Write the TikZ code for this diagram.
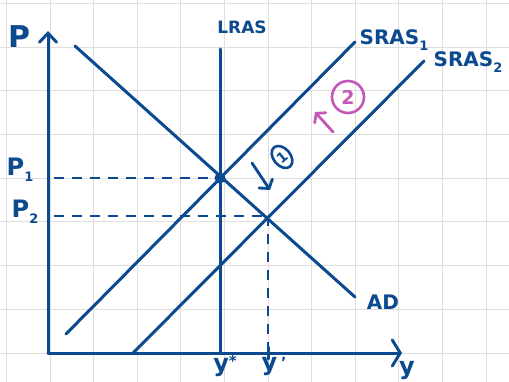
\documentclass[tikz,border=0pt]{standalone}
\usepackage{fontspec}
\setmainfont{DejaVu Sans}
\usetikzlibrary{arrows.meta,shapes.geometric}
\definecolor{ink}{HTML}{0B4A8F}
\definecolor{pinkink}{HTML}{C457B8}
\definecolor{gridc}{HTML}{DEDEDE}
\newcommand{\lowidx}[1]{\raisebox{-6pt}{\fontsize{13}{13}\selectfont\bfseries #1}}
\begin{document}
\begin{tikzpicture}[x=1pt,y=-1pt,
  gridline/.style={gridc, line width=1pt},
  curve/.style={ink, line width=3pt, line cap=round},
  dashline/.style={ink, line width=2.8pt, dash pattern=on 10pt off 8pt},
  lab/.style={ink, inner sep=0pt, font=\fontsize{20}{20}\selectfont\bfseries},
  axistip/.style={-{Straight Barb[length=9pt,width=17pt,line cap=round]}},
  xaxistip/.style={-{Straight Barb[length=8pt,width=26pt,line cap=round]}}]
\useasboundingbox[fill=white] (0,0) rectangle (509,382);
\foreach \i in {0,...,11} \draw[gridline] (6.4+43.6*\i,0) -- (6.4+43.6*\i,382);
\foreach \j in {0,...,8} \draw[gridline] (0,3.4+43.7*\j) -- (509,3.4+43.7*\j);

% key points
\coordinate (O) at (48,353);
\coordinate (ytop) at (48,31);
\coordinate (xend) at (402,353);
\coordinate (ADa) at (75,46);
\coordinate (ADb) at (355,297);
\coordinate (LRa) at (220,49);
\coordinate (LRb) at (220,353);
\coordinate (S1a) at (66,334);
\coordinate (S1b) at (355,42);
\coordinate (S2a) at (133,353);
\coordinate (S2b) at (424,61);
\coordinate (E1) at (220,178);
\coordinate (E2) at (268,216);
\coordinate (P1e) at (54,178);
\coordinate (P2e) at (54,216);
\coordinate (Y1e) at (268,353);

% dashed guides
\draw[dashline] (P1e) -- (E1);
\draw[dashline] (P2e) -- (E2);
\draw[dashline] (E2) -- (Y1e);

% axes
\draw[curve, axistip] (O) -- (ytop);
\draw[curve, xaxistip] (O) -- (xend);

% curves
\draw[curve] (ADa) -- (ADb);
\draw[curve] (LRa) -- (LRb);
\draw[curve] (S1a) -- (S1b);
\draw[curve] (S2a) -- (S2b);
\fill[ink] (E1) circle (5.5pt);
\draw[curve] (268,347) -- (268,359);

% labels
\node[lab, font=\fontsize{30}{30}\selectfont\bfseries] (Plab) at (19,37) {P};
\node[lab, font=\fontsize{24}{24}\selectfont\bfseries] (P1lab) at (20,170) {P\lowidx{1}};
\node[lab, font=\fontsize{24}{24}\selectfont\bfseries] (P2lab) at (25,212) {P\lowidx{2}};
\node[lab, font=\fontsize{17}{17}\selectfont\bfseries] (LRlab) at (242,27) {LRAS};
\node[lab] (S1lab) at (394,40) {SRAS\lowidx{1}};
\node[lab] (S2lab) at (468,62) {SRAS\lowidx{2}};
\node[lab] (ADlab) at (383,302) {AD};
\node[lab, font=\fontsize{24}{24}\selectfont\bfseries] (ystar) at (225,366) {y\raisebox{5pt}{\fontsize{15}{15}\selectfont\bfseries *}};
\node[lab, font=\fontsize{24}{24}\selectfont\bfseries] (yprime) at (274,366) {y\,\raisebox{3pt}{\fontsize{14}{14}\selectfont\bfseries '}};
\node[lab, font=\fontsize{24}{24}\selectfont\bfseries] (ylab) at (407,371) {y};

% annotation 1
\coordinate (A1s) at (252,163);
\coordinate (A1e) at (270,190);
\draw[curve, line width=2.8pt, -{Straight Barb[length=6pt,width=16pt,line cap=round]}] (A1s) -- (A1e);
\node[ink, draw, ellipse, line width=2.6pt, rotate=40, inner sep=1pt, minimum width=17pt, minimum height=25pt, font=\fontsize{14}{14}\selectfont\bfseries] (C1) at (282,157) {1};

% annotation 2
\coordinate (A2s) at (333,132);
\coordinate (A2e) at (315,112);
\draw[pinkink, line width=2.8pt, line cap=round, -{Straight Barb[length=6pt,width=15pt,line cap=round]}] (A2s) -- (A2e);
\node[pinkink, draw, circle, line width=2.6pt, inner sep=2pt, minimum size=32pt, font=\fontsize{19}{19}\selectfont\bfseries] (C2) at (348,97) {2};
\end{tikzpicture}
\end{document}
